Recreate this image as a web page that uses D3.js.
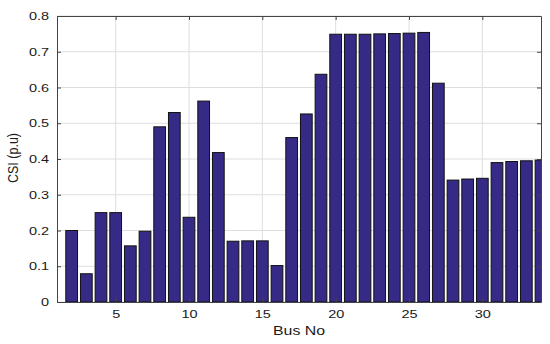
<!DOCTYPE html>
<html>
<head>
<meta charset="utf-8">
<script src="https://cdn.jsdelivr.net/npm/d3@7"></script>
<style>
  body { margin: 0; background: #fff; }
  text { font-family: "Liberation Sans", Arial, sans-serif; }
</style>
</head>
<body>
<div id="chart"></div>
<script>
// bus numbers and CSI values (p.u)
const buses = d3.range(2, 35);
const csi = [0.200, 0.079, 0.250, 0.250, 0.157, 0.198, 0.490, 0.530, 0.237, 0.562,
  0.418, 0.170, 0.171, 0.171, 0.102, 0.460, 0.526, 0.637, 0.749, 0.749,
  0.749, 0.750, 0.751, 0.752, 0.754, 0.612, 0.341, 0.344, 0.346, 0.390,
  0.393, 0.395, 0.397];
const xTicks = [5, 10, 15, 20, 25, 30];
const yTicks = [0, 0.1, 0.2, 0.3, 0.4, 0.5, 0.6, 0.7, 0.8];

const width = 550, height = 344;
const margin = { top: 16, right: 9, bottom: 42, left: 57 };
const w = width - margin.left - margin.right;
const h = height - margin.top - margin.bottom;
const stretch = 1.42; // reference text looks horizontally stretched

const svg = d3.select("#chart").append("svg")
  .attr("width", width)
  .attr("height", height);

svg.append("defs").append("clipPath").attr("id", "clip")
  .append("rect").attr("width", w).attr("height", h);

const g = svg.append("g").attr("transform", `translate(${margin.left},${margin.top})`);

const x = d3.scaleLinear().domain([1, 34]).range([0, w]);
const y = d3.scaleLinear().domain([0, 0.8]).range([h, 0]);

// grid
g.append("g").selectAll("line").data(xTicks).enter().append("line")
  .attr("x1", d => x(d)).attr("x2", d => x(d))
  .attr("y1", 0).attr("y2", h)
  .attr("stroke", "#dedede").attr("stroke-width", 1);
g.append("g").selectAll("line").data(yTicks).enter().append("line")
  .attr("x1", 0).attr("x2", w)
  .attr("y1", d => y(d)).attr("y2", d => y(d))
  .attr("stroke", "#dedede").attr("stroke-width", 1);

// bars
const bw = (x(2) - x(1)) * 0.8;
g.append("g").attr("clip-path", "url(#clip)")
  .selectAll("rect").data(buses).enter().append("rect")
  .attr("x", (d, i) => x(d) - bw / 2)
  .attr("y", (d, i) => y(csi[i]))
  .attr("width", bw)
  .attr("height", (d, i) => y(0) - y(csi[i]))
  .attr("fill", "#362a87")
  .attr("stroke", "#111")
  .attr("stroke-width", 1);

// axes
const fmt = d => d === 0 ? "0" : d3.format(".1f")(d);
const xAxis = g.append("g").attr("transform", `translate(0,${h})`)
  .call(d3.axisBottom(x).tickValues(xTicks).tickSizeInner(-4).tickSizeOuter(0));
const yAxis = g.append("g")
  .call(d3.axisLeft(y).tickValues(yTicks).tickFormat(fmt).tickSizeInner(-4).tickSizeOuter(0));
g.append("g")
  .call(d3.axisTop(x).tickValues(xTicks).tickSizeInner(-4).tickSizeOuter(0).tickFormat(""));
g.append("g").attr("transform", `translate(${w},0)`)
  .call(d3.axisRight(y).tickValues(yTicks).tickSizeInner(-4).tickSizeOuter(0).tickFormat(""));

g.selectAll(".domain").attr("stroke", "#444");
g.selectAll(".tick line").attr("stroke", "#444");
g.selectAll(".tick text").attr("font-size", 10.2).attr("fill", "#1a1a1a")
  .attr("font-family", "Liberation Sans, Arial, sans-serif")
  .attr("transform", `scale(${stretch},1)`);
xAxis.selectAll(".tick text").attr("y", 16).attr("dy", 0);
yAxis.selectAll(".tick text").attr("x", -8 / stretch).attr("dy", "0.36em");

// labels
svg.append("text")
  .attr("transform", `translate(${margin.left + w / 2},334.7) scale(1.27,1)`)
  .attr("text-anchor", "middle")
  .attr("font-size", 12.5).attr("fill", "#1a1a1a")
  .text("Bus No");
svg.append("text")
  .attr("transform", `translate(17.5,158) rotate(-90) scale(1,1.1)`)
  .attr("text-anchor", "middle")
  .attr("font-size", 12.5).attr("fill", "#1a1a1a")
  .text("CSI (p.u)");
</script>
</body>
</html>
